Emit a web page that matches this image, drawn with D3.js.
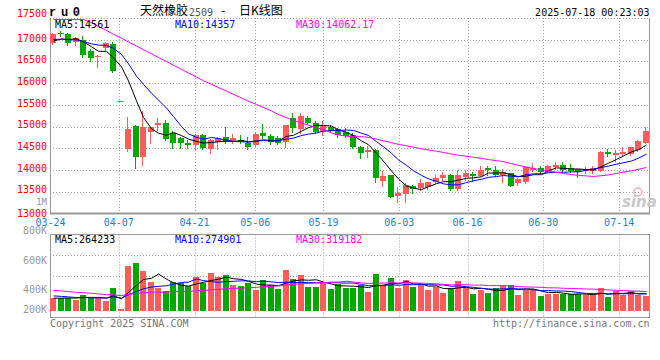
<!DOCTYPE html>
<html><head><meta charset="utf-8">
<script src="https://cdn.jsdelivr.net/npm/d3@7"></script>
<style>
body{margin:0;background:#fff}
svg{display:block}
text{font-family:"DejaVu Sans Mono","Liberation Mono",monospace;font-size:10px}
</style>
</head><body>
<svg id="c" width="660" height="360"></svg>
<script>
// ---------------- data ----------------
const dates = ["03-24","03-25","03-26","03-27","03-28","03-31",
"04-01","04-02","04-03","04-07","04-08","04-09","04-10","04-11","04-14","04-15","04-16","04-17","04-18","04-21","04-22","04-23","04-24","04-25","04-28","04-29","04-30",
"05-06","05-07","05-08","05-09","05-12","05-13","05-14","05-15","05-16","05-19","05-20","05-21","05-22","05-23","05-26","05-27","05-28","05-29","05-30",
"06-03","06-04","06-05","06-06","06-09","06-10","06-11","06-12","06-13","06-16","06-17","06-18","06-19","06-20","06-23","06-24","06-25","06-26","06-27","06-30",
"07-01","07-02","07-03","07-04","07-07","07-08","07-09","07-10","07-11","07-14","07-15","07-16","07-17","07-18"];
const opens = [16930,17160,17140,16950,17000,16730,16600,16810,16900,15590,
14483,15021,14306,14869,15040,15076,14846,14744,14630,14576,
14806,14476,14652,14753,14652,14691,14630,14576,14860,14783,
14745,14652,15191,14938,15206,15076,14883,14998,14938,14883,
14806,14520,14420,14470,13740,13884,13400,13450,13630,13580,
13600,13729,13822,13884,13561,13845,13895,13861,14052,13999,
13884,13920,13690,13715,13999,14038,13960,14061,14114,14038,
14015,13976,13983,13980,14421,14345,14368,14370,14460,14630];
const highs = [17160,17210,17150,17070,17090,16785,16640,16950,16940,15590,
15215,15040,15367,14990,15190,15152,14892,14767,14684,14830,
14830,14714,14768,14998,14830,14806,14767,14853,15060,14830,
14783,15040,15307,15315,15245,15130,15130,15040,14960,14960,
14845,14560,14540,14480,13970,13890,13600,13692,13660,13800,
13730,13884,13960,13900,13999,13999,13960,14091,14091,14091,
14015,13930,13807,14075,14168,14091,14110,14191,14191,14137,
14030,14060,14091,14444,14476,14460,14537,14537,14691,14998];
const lows = [16900,17090,16880,16880,16610,16513,16370,16770,16250,15590,
14444,14038,14114,14615,14922,14684,14513,14506,14506,14490,
14490,14398,14490,14615,14630,14615,14490,14560,14745,14600,
14600,14537,14869,14853,15060,14860,14806,14883,14767,14760,
14506,14269,14300,13729,13640,13380,13250,13268,13461,13538,
13570,13692,13769,13538,13538,13776,13753,13850,13884,13860,
13729,13620,13653,13692,13980,13940,13950,14030,13945,13960,
13845,13930,13940,13970,14322,14214,14340,14340,14440,14622];
const closes = [17130,17150,16925,17040,16650,16575,16620,16920,16290,15590,
14945,14306,14998,14984,15070,14707,14630,14630,14576,14806,
14513,14691,14730,14652,14745,14638,14537,14830,14783,14652,
14615,15037,14975,15245,15076,14883,15014,14906,14806,14783,
14522,14380,14470,13807,13870,13383,13461,13650,13560,13700,
13720,13807,13884,13561,13884,13922,13870,13999,13999,13884,
13960,13630,13780,14060,14052,13960,14091,14114,13999,13983,
13960,14015,14052,14421,14368,14398,14421,14520,14675,14906];
const volumes = [214000,214000,214000,182000,262000,214000,214000,160000,368000,27000,
720000,768000,635000,464000,368000,315000,464000,448000,395000,544000,
448000,608000,544000,571000,411000,395000,448000,331000,491000,411000,
347000,651000,507000,571000,384000,384000,464000,358000,427000,368000,
368000,411000,304000,587000,395000,523000,368000,491000,384000,411000,
331000,384000,288000,368000,480000,374000,267000,331000,288000,368000,
395000,411000,251000,342000,358000,235000,278000,278000,278000,267000,
267000,251000,251000,368000,224000,315000,251000,315000,262000,240000];
// sessions before 03-24 (not drawn; estimated from the start of the MA lines)
const priorCloses = [19850,19625,19740,19350,19275,19320,19620,18990,18290,
17645,17006,17698,17684,17770,17407,17330,17330,17276,17506,17213,
17100,17050,17080,17060,17080,16900,17000,16950,17020];
const priorVolumes = [520000,480000,540000,500000,470000,530000,510000,490000,
300000,260000,240000,250000,260000,300000,320000,310000,300000,330000,290000,310000,
290000,300000,280000,270000,250000,210000,200000,190000,210000];
const priceTicks = [17500,17000,16500,16000,15500,15000,14500,14000,13500,13000];
const volTicks = [1000000,800000,600000,400000,200000];
const volTickLabels = ["1M","800K","600K","400K","200K"];
const dateTicks = ["03-24","04-07","04-21","05-06","05-19","06-03","06-16","06-30","07-14"];
const maPeriods = [5,10,30];
const maColors = ["#000000","#0000ff","#ff00ff"];
const priceLegend = ["MA5:14561","MA10:14357","MA30:14062.17"];
const volLegend = ["MA5:264233","MA10:274901","MA30:319182"];

// ---------------- layout ----------------
const L = 50, R = 650;
const pTop = 18, pBot = 213.3;
const vTop = 234.5, vBot = 317.5, vBase = 311;
const UP = "#ff5b5b", DOWN = "#00a800", GRID = "#aaaaaa", BORDER = "#999999";

const svg = d3.select("#c");
const xBand = d3.scaleBand().domain(dates).range([L, R]).padding(0);
const xPoint = d3.scalePoint().domain(dates).range([L + 0.5, R - 0.5]);
const yP = d3.scaleLinear().domain([13000, 17500]).range([pBot, pTop]);
const yPc = d3.scaleLinear().domain([13000, 17500]).range([pBot, pTop + 1.5]).clamp(true);
const yV = d3.scaleLinear().domain([0, 1222000]).range([vBase, vBase - 76.4]);
const yVLabel = d3.scaleLinear().domain([200000, 1000000]).range([319, 202]);
const cx = d => Math.round(xBand(d)) + 3;

const defs = svg.append("defs");
defs.append("clipPath").attr("id","cp").append("rect").attr("x",L).attr("y",pTop).attr("width",R-L).attr("height",pBot-pTop);
defs.append("clipPath").attr("id","cv").append("rect").attr("x",L).attr("y",vTop).attr("width",R-L).attr("height",vBot-vTop);

// ---------- grids ----------
const g = svg.append("g").attr("stroke", GRID).attr("stroke-dasharray","1,2").attr("fill","none");
priceTicks.filter(t => t < 17500 && t > 13000).forEach(t => {
  const y = Math.round(yP(t)) + 0.5;
  g.append("line").attr("x1",L).attr("x2",R).attr("y1",y).attr("y2",y);
});
g.append("line").attr("x1",L).attr("x2",R).attr("y1",pTop+0.5).attr("y2",pTop+0.5);
dateTicks.forEach(d => {
  const x = Math.round(xPoint(d)) + 0.5;
  if (x < L + 3) return;
  g.append("line").attr("x1",x).attr("x2",x).attr("y1",pTop).attr("y2",pBot);
  g.append("line").attr("x1",x).attr("x2",x).attr("y1",vTop).attr("y2",vBot);
});
[1,2].forEach(k => {
  const y = Math.round(vTop + (vBot - vTop) * k / 4) + 0.5;
  g.append("line").attr("x1",L).attr("x2",R).attr("y1",y).attr("y2",y);
});

// ---------- borders ----------
const b = svg.append("g").attr("stroke", BORDER).attr("fill","none");
b.append("line").attr("x1",L+0.5).attr("x2",L+0.5).attr("y1",pTop).attr("y2",pBot+1);
b.append("line").attr("x1",R-0.5).attr("x2",R-0.5).attr("y1",pTop).attr("y2",pBot+1);
b.append("line").attr("x1",L).attr("x2",R).attr("y1",Math.round(pBot)+0.5).attr("y2",Math.round(pBot)+0.5).attr("stroke-width",2);
b.append("rect").attr("x",L+0.5).attr("y",vTop).attr("width",R-L-1).attr("height",vBot-vTop);

// ---------- watermark ----------
svg.append("text").attr("x",622).attr("y",207).attr("fill","#c8c8c8").attr("font-style","italic").attr("font-weight","bold")
  .style("font-family","'DejaVu Sans',sans-serif").style("font-size","15px").text("sina");
svg.append("circle").attr("cx",638).attr("cy",192).attr("r",4).attr("fill","none").attr("stroke","#f2b0b0").attr("stroke-width",1.5);

// ---------- candles ----------
const cg = svg.append("g").attr("clip-path","url(#cp)");
dates.forEach((d, i) => {
  const o = opens[i], c = closes[i], h = highs[i], l = lows[i];
  const col = c >= o ? UP : DOWN;
  const x0 = Math.round(xBand(d));
  const yh = Math.round(yP(h)), yl = Math.round(yP(l));
  if (yl > yh) cg.append("rect").attr("x",x0+2).attr("y",yh).attr("width",1).attr("height",yl-yh+1).attr("fill",col);
  const yt = Math.round(yP(Math.max(o,c))), yb = Math.round(yP(Math.min(o,c)));
  cg.append("rect").attr("x",x0).attr("y",yt).attr("width",6).attr("height",Math.max(1,yb-yt)).attr("fill",col);
});

// ---------- volume bars ----------
const vg = svg.append("g");
dates.forEach((d, i) => {
  const col = closes[i] >= opens[i] ? UP : DOWN;
  const x0 = Math.round(xBand(d));
  const y = Math.round(yV(volumes[i]));
  vg.append("rect").attr("x",x0).attr("y",y).attr("width",6).attr("height",Math.max(1,yV(0)-y)).attr("fill",col);
});

// ---------- moving averages ----------
function movingAvg(prior, vals, n) {
  const all = prior.concat(vals), off = prior.length;
  return vals.map((_, i) => d3.mean(all.slice(off + i - n + 1, off + i + 1)));
}
maPeriods.forEach((n, k) => {
  const ma = movingAvg(priorCloses, closes, n);
  svg.append("path").attr("clip-path","url(#cp)")
    .attr("d", d3.line().x((v,i) => cx(dates[i]) + 0.5).y(v => yPc(v))(ma))
    .attr("fill","none").attr("stroke",maColors[k]).attr("stroke-width",1);
  const mv = movingAvg(priorVolumes, volumes, n);
  svg.append("path").attr("clip-path","url(#cv)")
    .attr("d", d3.line().x((v,i) => cx(dates[i]) + 0.5).y(v => yV(v))(mv))
    .attr("fill","none").attr("stroke",maColors[k]).attr("stroke-width",1);
});

// ---------- axis labels ----------
priceTicks.forEach(t => {
  const y = yP(t);
  const off = t === 17500 ? -1.5 : (t === 13000 ? 3.2 : 1.8);
  svg.append("text").attr("x",47).attr("y", y + off)
    .attr("text-anchor","end").attr("fill","#ff0000").text(t);
});
volTicks.forEach((v, k) => {
  svg.append("text").attr("x",47).attr("y", Math.min(yVLabel(v), 310) + 3.2)
    .attr("text-anchor","end").attr("fill","#999999").style("font-size", v === 1000000 ? "9px" : "10px").text(volTickLabels[k]);
});
dateTicks.forEach(d => {
  svg.append("text").attr("x", xPoint(d)).attr("y",225.5).attr("text-anchor","middle")
    .attr("fill","#1a84e6").text(d);
});

// ---------- legends ----------
const legX = [55, 175, 296];
priceLegend.forEach((t,k) => svg.append("text").attr("x",legX[k]).attr("y",27.8).attr("fill",maColors[k]).text(t));
volLegend.forEach((t,k) => svg.append("text").attr("x",legX[k]).attr("y",242.8).attr("fill",maColors[k]).text(t));

// ---------- titles ----------
svg.append("text").attr("x",49).attr("y",16).attr("font-weight","bold").attr("textLength",31)
  .style("font-family","'Liberation Mono',monospace").style("font-size","12px").attr("fill","#000").text("r u 0");
const tt = svg.append("text").attr("y",14.5).attr("fill","#000")
  .style("font-family","'Noto Sans CJK SC',sans-serif").style("font-size","12px");
tt.append("tspan").attr("x",140).text("天然橡胶");
tt.append("tspan").attr("x",189).attr("y",15.5).attr("fill","#555").style("font-family","'DejaVu Sans Mono',monospace").style("font-size","10px").text("2509");
tt.append("tspan").attr("x",221).attr("y",14.5).text("-");
tt.append("tspan").attr("x",239).text("日K线图");
svg.append("text").attr("x",649.5).attr("y",15.5).attr("text-anchor","end").attr("fill","#000").text("2025-07-18 00:23:03");
svg.append("text").attr("x",50).attr("y",327).attr("fill","#777").text("Copyright 2025 SINA.COM");
svg.append("text").attr("x",649.5).attr("y",327).attr("text-anchor","end").attr("fill","#777").text("http://finance.sina.com.cn");
</script>
</body></html>
